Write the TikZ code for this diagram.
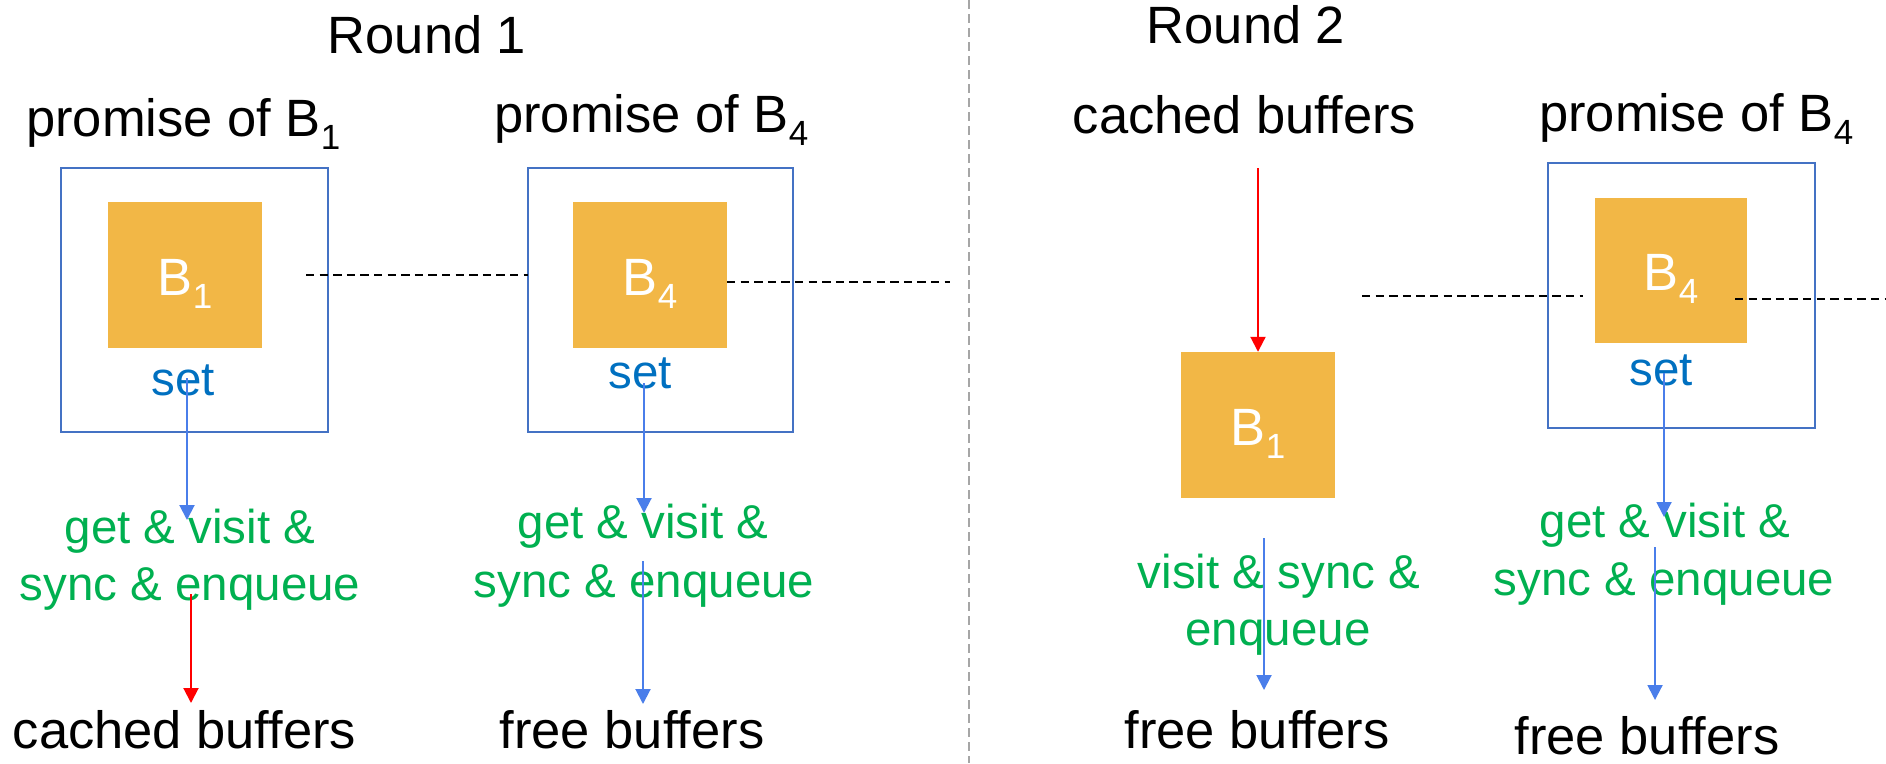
\documentclass[tikz,border=0pt]{standalone}
\usepackage{fontspec}
\setmainfont{Liberation Sans}
\usetikzlibrary{arrows.meta}

\definecolor{bufOrange}{HTML}{F2B746}
\definecolor{frameBlue}{HTML}{4472C4}
\definecolor{flowBlue}{HTML}{4A7EEA}
\definecolor{setBlue}{HTML}{0070C0}
\definecolor{opGreen}{HTML}{00B050}
\definecolor{divGray}{HTML}{A6A6A6}

% lowered, smaller index as in B_1
\newcommand\lowidx[1]{\raisebox{-0.25em}{\fontsize{35}{35}\selectfont #1}}

\tikzset{
  bigtxt/.style={inner sep=0pt, anchor=base, font=\fontsize{52.5}{60}\selectfont},
  optxt/.style={inner sep=0pt, anchor=base, text=opGreen, font=\fontsize{47.5}{55}\selectfont},
  settxt/.style={inner sep=0pt, anchor=base, text=setBlue, font=\fontsize{47.5}{55}\selectfont},
  buflabel/.style={inner sep=0pt, anchor=base, text=white, font=\fontsize{52.5}{60}\selectfont},
  promisebox/.style={draw=frameBlue, line width=2.8pt, inner sep=0pt},
  bufbox/.style={fill=bufOrange, inner sep=0pt},
  flow/.style={draw=flowBlue, line width=2pt, -{Triangle[length=15pt,width=15pt]}},
  cachedflow/.style={draw=red, line width=2pt, -{Triangle[length=15pt,width=15pt]}},
  link/.style={draw=black, line width=2pt, dash pattern=on 8.3pt off 5.3pt},
  divider/.style={draw=divGray, line width=1.5pt, dash pattern=on 9pt off 5pt},
}

\begin{document}
\begin{tikzpicture}[x=1pt, y=-1pt]
  \path[use as bounding box, fill=white] (0,0) rectangle (1886,763);

  % ---------- Round 1 ----------
  \node[bigtxt] (r1) at (427,53) {Round 1};
  \node[bigtxt, anchor=base west] (p1) at (26,136) {promise of B\lowidx{1}};
  \node[bigtxt, anchor=base west] (p4a) at (494,132) {promise of B\lowidx{4}};

  \node[promisebox, minimum width=267pt, minimum height=264pt] (box1) at (194.5,300) {};
  \node[bufbox, minimum width=154pt, minimum height=146pt] (o1) at (185,275) {};
  \node[buflabel] (b1) at ([yshift=-20pt]o1.center) {B\lowidx{1}};
  \node[settxt] (set1) at (183,395) {set};

  \node[promisebox, minimum width=265pt, minimum height=264pt] (box2) at (660.5,300) {};
  \node[bufbox, minimum width=154pt, minimum height=146pt] (o2) at (650,275) {};
  \node[buflabel] (b4a) at ([yshift=-20pt]o2.center) {B\lowidx{4}};
  \node[settxt] (set2) at (640,388) {set};

  \node[optxt] (g1a) at (190,543) {get \& visit \&};
  \node[optxt] (g1b) at (190,600) {sync \& enqueue};
  \node[optxt] (g2a) at (643,538) {get \& visit \&};
  \node[optxt] (g2b) at (644,597) {sync \& enqueue};

  \node[bigtxt] (cb1) at (184.5,748) {cached buffers};
  \node[bigtxt] (fb1) at (632,748) {free buffers};

  % ---------- divider ----------
  \coordinate (divtop) at (969,0);
  \coordinate (divbot) at (969,763);
  \draw[divider] (divtop) -- (divbot);

  % ---------- Round 2 ----------
  \node[bigtxt] (r2) at (1246,43) {Round 2};
  \node[bigtxt] (cb2) at (1244.5,133) {cached buffers};
  \node[bigtxt, anchor=base west] (p4b) at (1539,131) {promise of B\lowidx{4}};

  \node[bufbox, minimum width=154pt, minimum height=146pt] (o4) at (1258,425) {};
  \node[buflabel] (b1b) at ([yshift=-20pt]o4.center) {B\lowidx{1}};

  \node[promisebox, minimum width=267pt, minimum height=265pt] (box3) at (1681.5,295.5) {};
  \node[bufbox, minimum width=152pt, minimum height=145pt] (o3) at (1671,270.5) {};
  \node[buflabel] (b4b) at ([yshift=-20pt]o3.center) {B\lowidx{4}};
  \node[settxt] (set3) at (1661,385) {set};

  \node[optxt] (g3a) at (1279,588) {visit \& sync \&};
  \node[optxt] (g3b) at (1278,645) {enqueue};
  \node[optxt] (g4a) at (1665,537) {get \& visit \&};
  \node[optxt] (g4b) at (1664,595) {sync \& enqueue};

  \node[bigtxt] (fb2) at (1257,748) {free buffers};
  \node[bigtxt] (fb3) at (1647,754) {free buffers};

  % ---------- linked-list dashes ----------
  \coordinate (l1s) at (306,275);  \coordinate (l1e) at (528,275);
  \coordinate (l2s) at (727,282);  \coordinate (l2e) at (950,282);
  \coordinate (l3s) at (1362,296); \coordinate (l3e) at (1583,296);
  \coordinate (l4s) at (1735,299); \coordinate (l4e) at (1886,299);
  \draw[link] (l1s) -- (l1e);
  \draw[link] (l2s) -- (l2e);
  \draw[link] (l3s) -- (l3e);
  \draw[link] (l4s) -- (l4e);

  % ---------- flows ----------
  \coordinate (f1s) at (187,378);  \coordinate (f1e) at (187,520);
  \coordinate (c1s) at (191,594);  \coordinate (c1e) at (191,703);
  \coordinate (f2s) at (644,383);  \coordinate (f2e) at (644,513);
  \coordinate (f3s) at (643,561);  \coordinate (f3e) at (643,704);
  \coordinate (c2s) at (1258,168);
  \coordinate (f4s) at (1264,538); \coordinate (f4e) at (1264,690);
  \coordinate (f5s) at (1664,373); \coordinate (f5e) at (1664,517);
  \coordinate (f6s) at (1655,547); \coordinate (f6e) at (1655,700);

  \draw[flow] (f1s) -- (f1e);
  \draw[cachedflow] (c1s) -- (c1e);
  \draw[flow] (f2s) -- (f2e);
  \draw[flow] (f3s) -- (f3e);
  \draw[cachedflow] (c2s) -- (o4.north);
  \draw[flow] (f4s) -- (f4e);
  \draw[flow] (f5s) -- (f5e);
  \draw[flow] (f6s) -- (f6e);
\end{tikzpicture}
\end{document}
